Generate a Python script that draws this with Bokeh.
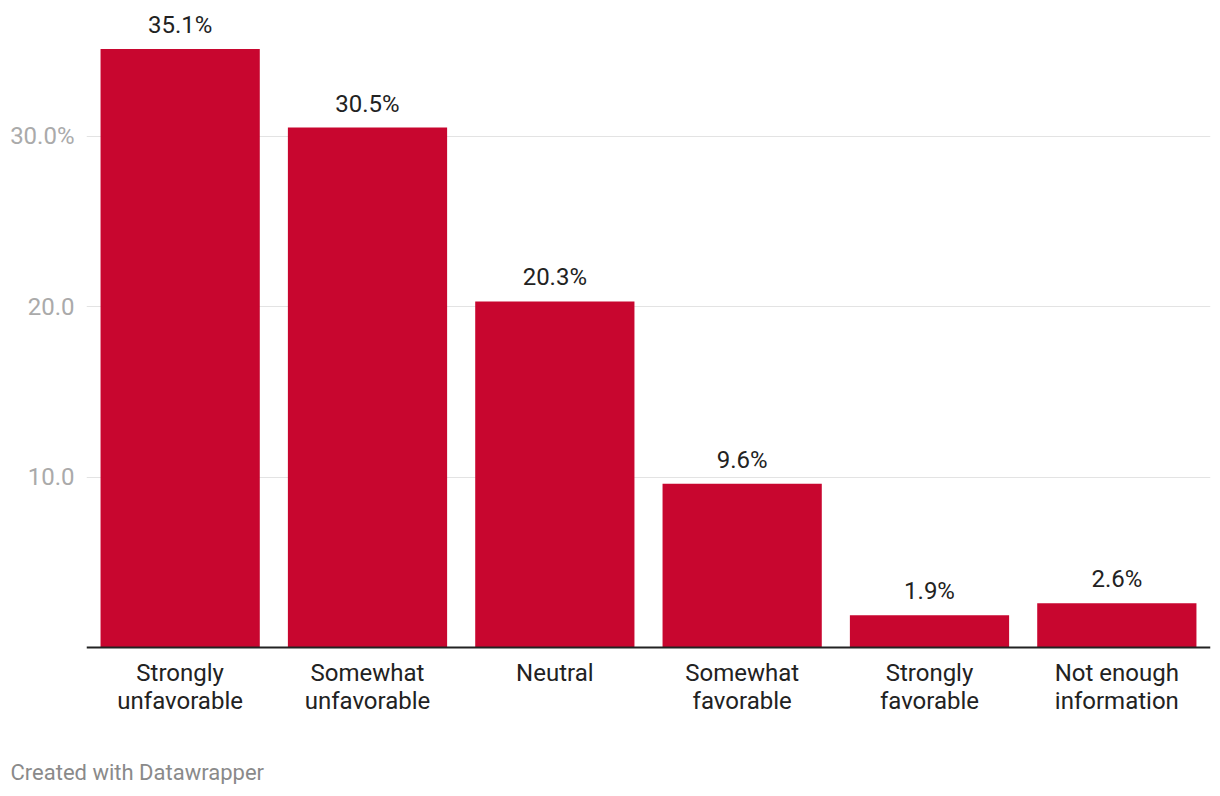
from bokeh.plotting import figure
from bokeh.models import FactorRange, Range1d, Span, FixedTicker, CustomJSTickFormatter, Title, ColumnDataSource
from bokeh.core.properties import value
from bokeh.embed import file_html
from bokeh.resources import INLINE

categories = ["Strongly unfavorable", "Somewhat unfavorable", "Neutral",
              "Somewhat favorable", "Strongly favorable", "Not enough information"]
label_line1 = ["Strongly", "Somewhat", "Neutral", "Somewhat", "Strongly", "Not enough"]
label_line2 = ["unfavorable", "unfavorable", "", "favorable", "favorable", "information"]
values = [35.1, 30.5, 20.3, 9.6, 1.9, 2.6]
value_labels = ["35.1%", "30.5%", "20.3%", "9.6%", "1.9%", "2.6%"]
y_ticks = [10, 20, 30]

FONT = "Roboto"
BAR = "#c8062f"

p = figure(width=1212, height=784, output_backend="svg", toolbar_location=None,
           x_range=FactorRange(*categories, range_padding=0),
           y_range=Range1d(-6.45, 37.95),
           min_border_left=86, min_border_right=2, min_border_top=0, min_border_bottom=0)
p.outline_line_color = None
p.background_fill_color = "white"
p.border_fill_color = "white"

src = ColumnDataSource(dict(cat=categories, val=values, lab=value_labels,
                            l1=label_line1, l2=label_line2,
                            y1=[-1.47] * 6, y2=[-3.12] * 6))

p.vbar(x="cat", top="val", bottom=0, width=0.85, source=src, fill_color=BAR, line_color=None)

p.text(x="cat", y="val", text="lab", source=src, text_align="center", text_baseline="middle",
       y_offset=-24, text_font=value(FONT), text_font_size="24px", text_color="#222222")
p.text(x="cat", y="y1", text="l1", source=src, text_align="center", text_baseline="middle",
       text_font=value(FONT), text_font_size="24px", text_color="#222222")
p.text(x="cat", y="y2", text="l2", source=src, text_align="center", text_baseline="middle",
       text_font=value(FONT), text_font_size="24px", text_color="#222222")

p.add_layout(Span(location=0, dimension="width", line_color="#222222", line_width=2))

p.xaxis.visible = False
p.xgrid.visible = False
yax = p.yaxis[0]
yax.ticker = FixedTicker(ticks=y_ticks)
yax.formatter = CustomJSTickFormatter(code="""
const m = {10: "10.0", 20: "20.0", 30: "30.0%"};
return m[tick] || "";
""")
yax.axis_line_color = None
yax.major_tick_line_color = None
yax.minor_tick_line_color = None
yax.major_label_text_font = FONT
yax.major_label_text_font_size = "24px"
yax.major_label_text_color = "#aaaaaa"
yax.major_label_standoff = 6
p.ygrid.ticker = FixedTicker(ticks=y_ticks)
p.ygrid.grid_line_color = "#e3e3e3"
p.ygrid.grid_line_width = 1

p.add_layout(Title(text="Created with Datawrapper", align="left", offset=-76, standoff=0,
                   text_font=FONT, text_font_size="22px", text_color="#8a8a8a",
                   text_font_style="normal"), "below")

open("out.html", "w").write(file_html(p, INLINE))
